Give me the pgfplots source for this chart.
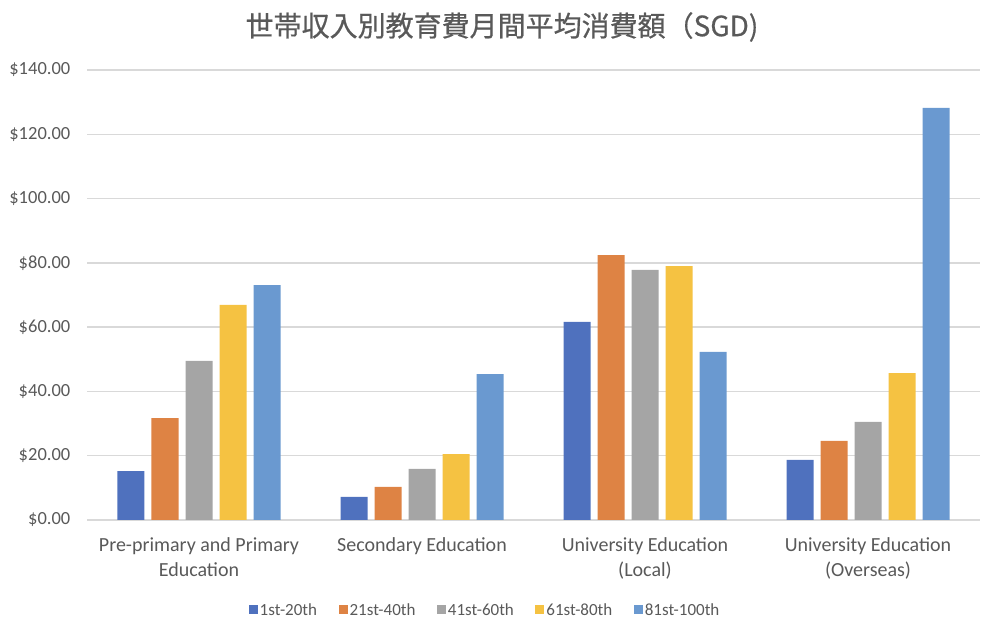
\documentclass[border=0pt]{standalone}
\usepackage{fontspec}
\setmainfont{Carlito}
\newfontfamily\cjk[FakeBold=0.6]{Noto Sans CJK JP}
\usepackage{pgfplots}
\pgfplotsset{compat=1.18}

\definecolor{txt}{HTML}{595959}
\definecolor{gridc}{HTML}{D9D9D9}
\definecolor{qone}{HTML}{4F71BE}
\definecolor{qtwo}{HTML}{DE8344}
\definecolor{qthree}{HTML}{A5A5A5}
\definecolor{qfour}{HTML}{F5C242}
\definecolor{qfive}{HTML}{6A99D0}

\begin{document}
\begin{tikzpicture}[x=1pt,y=1pt]
\useasboundingbox (0,0) rectangle (1002,634);
\node[font=\cjk\fontsize{28}{32}\selectfont, text=txt] at (502,607) {世帯収入別教育費月間平均消費額（SGD)};
\begin{axis}[
  at={(87.5pt,114pt)}, anchor=south west,
  scale only axis, width=892pt, height=450pt,
  xmin=-0.5, xmax=3.5, ymin=0, ymax=140,
  ytick={0,20,...,140},
  xtick={0,1,2,3},
  xticklabels={{Pre-primary and Primary\\Education},{Secondary Education},{University Education\\(Local)},{University Education\\(Overseas)}},
  ymajorgrids, grid style={gridc, line width=1.3pt},
  axis line style={draw=none},
  major tick length=0pt,
  /pgf/number format/assume math mode=true,
  yticklabel={\$\pgfmathprintnumber[fixed,fixed zerofill,precision=2]{\tick}},
  yticklabel style={font=\fontsize{18.5}{22}\selectfont, text=txt, anchor=east, inner sep=0pt, xshift=-17pt},
  xticklabel style={font=\fontsize{20}{25}\selectfont, text=txt, align=center, anchor=north, inner sep=0pt, yshift=-17pt},
  ybar=7pt, bar width=27pt,
  legend columns=-1,
  legend style={at={(0.4457,-0.2)}, anchor=center, draw=none, fill=none,
    font=\fontsize{17}{20}\selectfont, text=txt,
    /tikz/every even column/.append style={column sep=19.5pt}},
  legend image code/.code={\fill[#1,draw=none] (0pt,-4.5pt) rectangle (9pt,4.5pt);},
]
\addplot[fill=qone, draw=none] coordinates {(0,15.2) (1,7.2) (2,61.6) (3,18.7)};
\addplot[fill=qtwo, draw=none] coordinates {(0,31.7) (1,10.3) (2,82.4) (3,24.6)};
\addplot[fill=qthree, draw=none] coordinates {(0,49.5) (1,15.9) (2,77.8) (3,30.5)};
\addplot[fill=qfour, draw=none] coordinates {(0,66.9) (1,20.5) (2,79.0) (3,45.7)};
\addplot[fill=qfive, draw=none] coordinates {(0,73.1) (1,45.4) (2,52.3) (3,128.2)};
\legend{1st-20th,21st-40th,41st-60th,61st-80th,81st-100th}
\end{axis}
\end{tikzpicture}
\end{document}
